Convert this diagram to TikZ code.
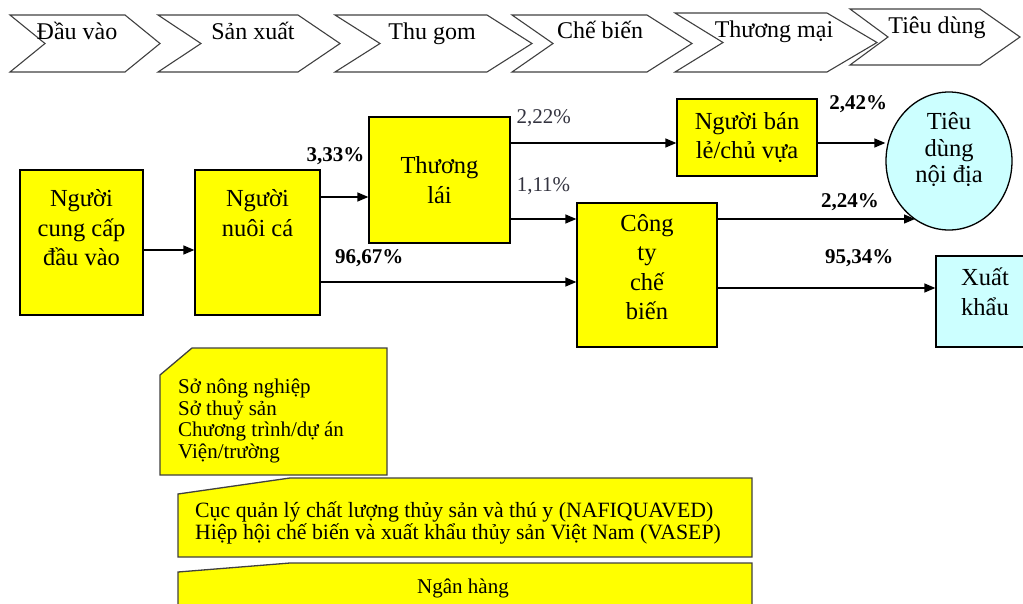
\documentclass[tikz,border=0pt]{standalone}
\usepackage{fontspec}
\setmainfont{Liberation Serif}
\usepackage{tikz}
\usetikzlibrary{arrows.meta, positioning, shapes.geometric}
\usepackage{xcolor}
\definecolor{boxyellow}{HTML}{FFFF00}
\definecolor{lightcyan}{HTML}{CCFFFF}
\definecolor{edgegray}{HTML}{404040}
\definecolor{pctgray}{HTML}{33333F}
\newcommand{\boxfont}{\fontsize{24.5}{29.5}\selectfont}
\newcommand{\ovalfont}{\fontsize{24.5}{26.5}\selectfont}
\newcommand{\stagefont}{\fontsize{24}{28}\selectfont}
\newcommand{\pctfont}{\fontsize{21}{25}\selectfont}
\newcommand{\notefont}{\fontsize{21}{21.5}\selectfont}
\newcommand{\widenotefont}{\fontsize{21.8}{22}\selectfont}

\begin{document}
\begin{tikzpicture}[x=1pt,y=-1pt,on grid,>={Triangle[length=11pt,width=9pt]}]
    \tikzstyle{box}=[shape=rectangle,draw,fill=boxyellow,line width=1.3pt,align=center,font=\boxfont,inner sep=0pt]
    \tikzstyle{market}=[box,fill=lightcyan]
    \tikzstyle{stage}=[draw=edgegray,line width=1.1pt]
    \tikzstyle{stagetext}=[font=\stagefont,inner sep=0pt,anchor=base]
    \tikzstyle{note}=[draw=edgegray,fill=boxyellow,line width=1.3pt]
    \tikzstyle{notetext}=[font=\notefont,align=left,inner sep=0pt]
    \tikzstyle{pct}=[font=\pctfont\bfseries,text=black,inner sep=0pt]
    \tikzstyle{pctthin}=[font=\pctfont,text=pctgray,inner sep=0pt]

    \useasboundingbox (0,0) rectangle (1023,603);

    % stages of the chain
    \draw[stage] (10,15) -- (125,15) -- (160,43.5) -- (125,72) -- (10,72) -- (45,43.5) -- cycle;
    \draw[stage] (158,15) -- (298,15) -- (340,43.5) -- (298,72) -- (158,72) -- (201,43.5) -- cycle;
    \draw[stage] (335,15) -- (487,15) -- (532,43.5) -- (487,72) -- (335,72) -- (380,43.5) -- cycle;
    \draw[stage] (512,15) -- (647,15) -- (692,43.5) -- (647,72) -- (512,72) -- (553,43.5) -- cycle;
    \draw[stage] (675,13) -- (827,13) -- (877,42.5) -- (827,72) -- (675,72) -- (723,42.5) -- cycle;
    \draw[stage] (850,9) -- (980,9) -- (1020,37) -- (980,65) -- (850,65) -- (888,37) -- cycle;
    \node[stagetext] (S1) at (77,39) {Đầu vào};
    \node[stagetext] (S2) at (253,39) {Sản xuất};
    \node[stagetext] (S3) at (432,39) {Thu gom};
    \node[stagetext] (S4) at (600,38) {Chế biến};
    \node[stagetext] (S5) at (774,37) {Thương mại};
    \node[stagetext] (S6) at (937,33) {Tiêu dùng};

    % actors
    \node[box,minimum width=123pt,minimum height=145pt] (A1) at (81.5,242.5) {Người\\cung cấp\\đầu vào\\~};
    \node[box,minimum width=125pt,minimum height=145pt,right=176pt of A1] (B1) {Người\\nuôi cá\\~\\~};
    \node[box,minimum width=141pt,minimum height=126pt,above right=62.5pt and 182pt of B1] (C1) {Thương\\lái};
    \node[box,minimum width=140pt,minimum height=77pt,above right=42.5pt and 307.5pt of C1] (D1) {Người bán\\lẻ/chủ vựa};
    \node[box,minimum width=140pt,minimum height=144pt,below right=95pt and 207.5pt of C1] (C2) {Công\\ty\\chế\\biến\\[-13.5pt]~};
    \node[market,shape=ellipse,font=\ovalfont,minimum width=126pt,minimum height=138pt,below right=23.5pt and 202pt of D1] (E1) {Tiêu\\dùng\\nội địa\\~};
    \node[market,minimum width=98pt,minimum height=91pt,below right=26.5pt and 338pt of C2] (F1) {Xuất\\khẩu\\[-9.5pt]~};

    \path[line width=1.3pt,every edge/.append style={->}]
    ([yshift=-7.5pt]A1.east) edge ([yshift=-7.5pt]A1.east -| B1.west)
    ([yshift=-17pt]C1.west -| B1.east) edge node[pct,pos=0.31,above=32pt] {3,33\%} ([yshift=-17pt]C1.west)
    ([yshift=-39.5pt]B1.east) edge node[pct,pos=0.19,above=15pt] {96,67\%} ([yshift=-39.5pt]B1.east -| C2.west)
    ([yshift=-5.5pt]D1.west -| C1.east) edge node[pctthin,pos=0.2,above=16pt] {2,22\%} ([yshift=-5.5pt]D1.west)
    ([yshift=56pt]C2.west -| C1.east) edge node[pctthin,pos=0.5,above=24pt] {1,11\%} ([yshift=56pt]C2.west)
    ([yshift=-5.5pt]D1.east) edge node[pct,pos=0.6,above=30pt] {2,42\%} ([yshift=-5.5pt]D1.east -| E1.west)
    ([yshift=56pt]C2.east) edge node[pct,pos=0.67,above=8pt] {2,24\%} ([yshift=56pt]C2.east -| E1.240)
    ([yshift=-13pt]C2.east) edge node[pct,pos=0.65,above=21pt] {95,34\%} ([yshift=-13pt]C2.east -| F1.west)
    ;

    % supporting institutions
    \draw[note] (160,375) -- (192,348) -- (387,348) -- (387,475) -- (160,475) -- cycle;
    \draw[note] (178,494) -- (290,478) -- (752,478) -- (752,557) -- (178,557) -- cycle;
    \draw[note] (178,572) -- (290,563) -- (752,563) -- (752,620) -- (178,620) -- cycle;
    \node[notetext,anchor=north west] (N1) at (178,379) {Sở nông nghiệp\\Sở thuỷ sản\\Chương trình/dự án\\Viện/trường};
    \node[notetext,font=\widenotefont,anchor=north west] (N2) at (195,502) {Cục quản lý chất lượng thủy sản và thú y (NAFIQUAVED)\\Hiệp hội chế biến và xuất khẩu thủy sản Việt Nam (VASEP)};
    \node[notetext] (N3) at (463,588) {Ngân hàng};

\end{tikzpicture}
\end{document}
